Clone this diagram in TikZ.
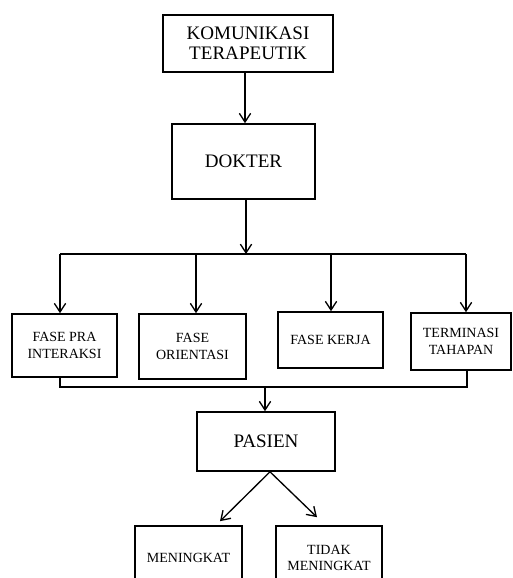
\documentclass[tikz,border=0pt]{standalone}
\usepackage{fontspec}
\setmainfont{Liberation Serif}
\usetikzlibrary{arrows.meta,calc}
\begin{document}
\begin{tikzpicture}[x=0.75pt,y=-0.75pt,
  box/.style={draw,line width=1.2pt,align=center,inner sep=0pt},
  bigtxt/.style={font=\fontsize{14.3pt}{15pt}\selectfont},
  smalltxt/.style={font=\fontsize{10.5pt}{12.5pt}\selectfont},
  con/.style={line width=1pt},
  arr/.style={line width=1pt,-{Straight Barb[length=6.5pt,width=8.5pt,line width=1pt]}}]
\useasboundingbox (0,0) rectangle (513,578);
\clip (0,0) rectangle (513,578);
\node[box,bigtxt,minimum width=127.5pt,minimum height=42.75pt] (kom) at (248,43.5) {KOMUNIKASI\\TERAPEUTIK};
\node[box,bigtxt,minimum width=107.25pt,minimum height=56.25pt] (dok) at (243.5,161.5) {DOKTER};
\node[box,smalltxt,minimum width=78.75pt,minimum height=47.25pt] (f1) at (64.5,345.5) {FASE PRA\\INTERAKSI};
\node[box,smalltxt,minimum width=80.25pt,minimum height=48.75pt] (f2) at (192.5,346.5) {FASE\\ORIENTASI};
\node[box,smalltxt,minimum width=78.75pt,minimum height=42pt] (f3) at (330.5,340) {FASE KERJA};
\node[box,smalltxt,minimum width=75pt,minimum height=42.75pt] (f4) at (461,341.5) {TERMINASI\\TAHAPAN};
\node[box,bigtxt,minimum width=103.5pt,minimum height=44.25pt] (pas) at (266,441.5) {PASIEN};
\node[box,smalltxt,minimum width=80.25pt,minimum height=48pt] (men) at (188.5,558) {MENINGKAT};
\node[box,smalltxt,minimum width=79.5pt,minimum height=48pt] (tid) at (329,558) {TIDAK\\MENINGKAT};
% top connectors
\coordinate (t1) at (60,254);
\coordinate (t2) at (196,254);
\coordinate (t3) at (331,254);
\coordinate (t4) at (466,254);
\draw[arr] (kom.south -| 245,0) -- (dok.north -| 245,0);
\draw[arr] (dok.south -| 246,0) -- (t1 -| 246,0);
\draw[con] (t1) -- (t4);
\draw[arr] (t1) -- (t1 |- f1.north);
\draw[arr] (t2) -- (t2 |- f2.north);
\draw[arr] (t3) -- (t3 |- f3.north);
\draw[arr] (t4) -- (t4 |- f4.north);
% bottom connectors
\coordinate (b1) at (60,387);
\coordinate (b4) at (467,387);
\coordinate (bm) at (265,387);
\draw[con] (b1 |- f1.south) -- (b1) -- (b4) -- (b4 |- f4.south);
\draw[arr] (bm) -- (bm |- pas.north);
\draw[arr] ([xshift=3pt]pas.south) -- ([xshift=23.6pt,yshift=3pt]men.north);
\draw[arr] ([xshift=3pt]pas.south) -- ([xshift=-9pt,yshift=6pt]tid.north);
\end{tikzpicture}
\end{document}
